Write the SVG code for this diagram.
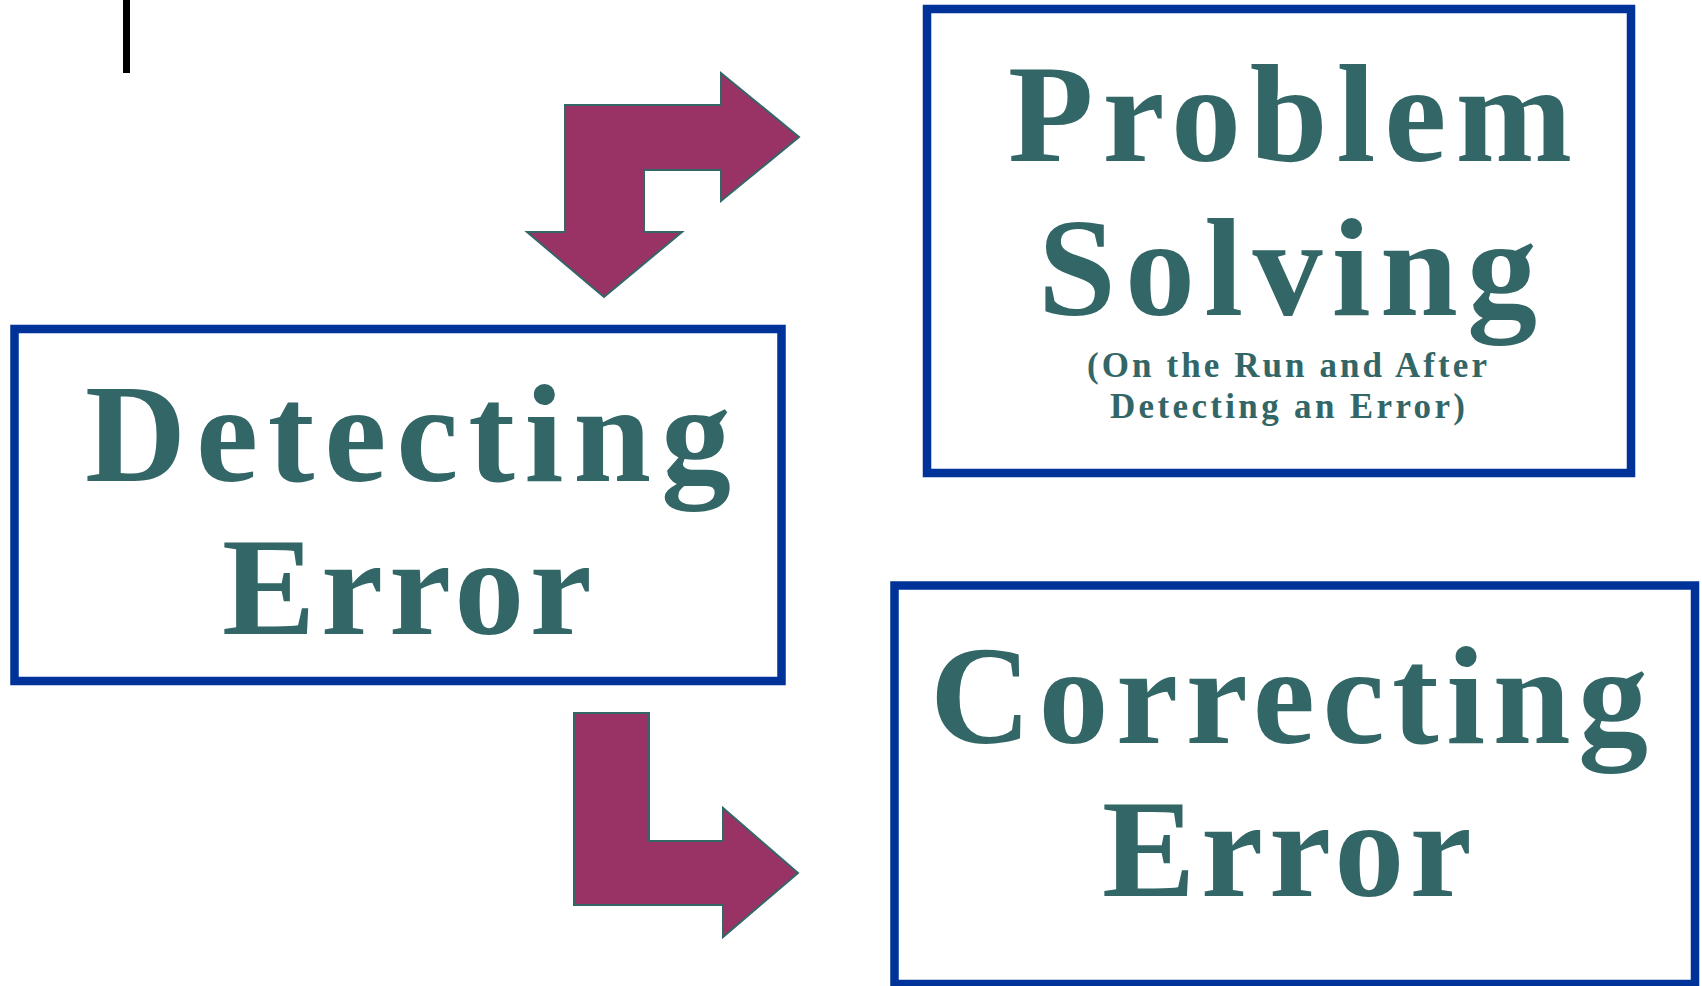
<svg xmlns="http://www.w3.org/2000/svg" width="1702" height="986" viewBox="0 0 1702 986">
<style>
.box{fill:#ffffff;stroke:#003399;stroke-width:8.5}
.big{font-family:"Liberation Serif","Times New Roman",serif;font-weight:bold;font-size:140px;fill:#336666}
.sub{font-family:"Liberation Serif","Times New Roman",serif;font-weight:bold;font-size:35px;fill:#336666}
.arrow{fill:#993366;stroke:#336666;stroke-width:2;stroke-linejoin:miter}
</style>
<rect x="0" y="0" width="1702" height="986" fill="#ffffff"/>
<g id="mark">
<rect x="123" y="0" width="7" height="73" fill="#000000"/>
</g>
<g id="node-detecting">
<rect class="box" x="14.5" y="329" width="767" height="352"/>
<text class="big" x="85" y="481" textLength="646" lengthAdjust="spacing">Detecting</text>
<text class="big" x="222" y="634" textLength="370" lengthAdjust="spacing">Error</text>
</g>
<g id="node-problem">
<rect class="box" x="927" y="9" width="704" height="464"/>
<text class="big" x="1008" y="161" textLength="564" lengthAdjust="spacing">Problem</text>
<text class="big" x="1038" y="315" textLength="499" lengthAdjust="spacing">Solving</text>
<text class="sub" x="1087" y="377" textLength="400" lengthAdjust="spacing">(On the Run and After</text>
<text class="sub" x="1110" y="418" textLength="355" lengthAdjust="spacing">Detecting an Error)</text>
</g>
<g id="node-correcting">
<rect class="box" x="894.5" y="585.5" width="800.5" height="398.5"/>
<text class="big" x="930" y="743" textLength="718" lengthAdjust="spacing">Correcting</text>
<text class="big" x="1102" y="896" textLength="370" lengthAdjust="spacing">Error</text>
</g>
<g id="connectors">
<polygon class="arrow" points="565,105 721,105 721,73 799,137 721,201 721,170 644,170 644,232 682,232 604,297 527,232 565,232"/>
<polygon class="arrow" points="574,713 649,713 649,841 723,841 723,808 798,873 723,937 723,905 574,905"/>
</g>
</svg>
